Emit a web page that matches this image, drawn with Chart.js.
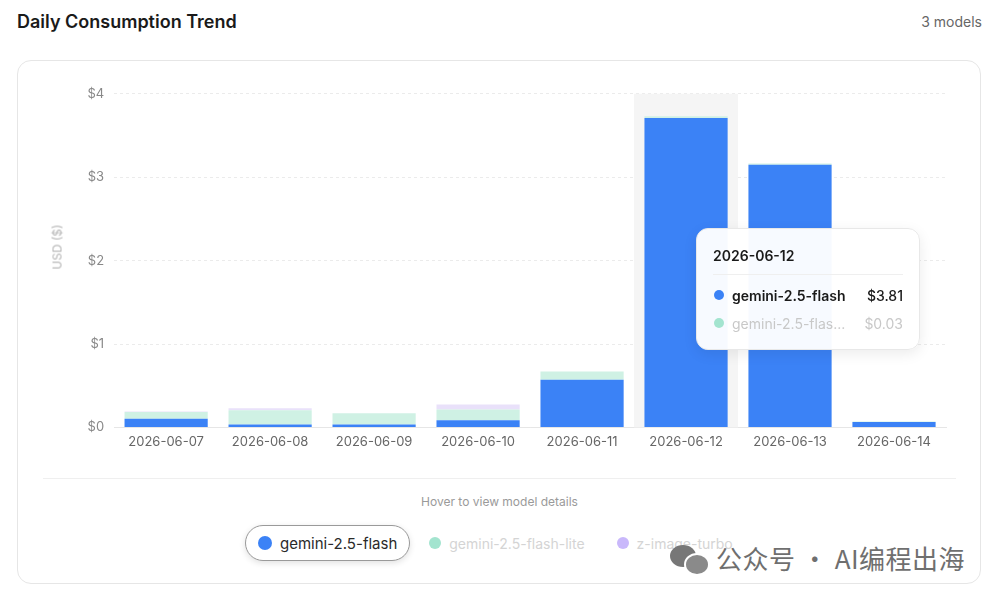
<!DOCTYPE html>
<html lang="en">
<head>
    <meta charset="UTF-8">
    <title>Daily Consumption Trend</title>
    <script src="https://cdn.jsdelivr.net/npm/chart.js"></script>
    <style>
        body {
            margin: 0;
            width: 999px;
            height: 599px;
            background: #fff;
            font-family: Inter, "Noto Sans", Arial, sans-serif;
            position: relative;
            overflow: hidden;
        }
        h2 {
            position: absolute;
            left: 17px;
            top: 11px;
            margin: 0;
            font-size: 18px;
            font-weight: 600;
            color: #1a1a1a;
        }
        .count {
            position: absolute;
            right: 17px;
            top: 13px;
            font-size: 14px;
            color: #666;
        }
        .card {
            position: absolute;
            left: 17px;
            top: 60px;
            width: 962px;
            height: 522px;
            border: 1px solid #e6e6e6;
            border-radius: 14px;
        }
        .chart-box {
            position: absolute;
            left: 47px;
            top: 80px;
            width: 913px;
            height: 377px;
        }
        .y-title {
            position: absolute;
            left: 57px;
            top: 247px;
            transform: translate(-50%, -50%) rotate(-90deg);
            font-size: 12px;
            font-weight: 400;
            color: #b4b4b4;
            white-space: nowrap;
        }
        .divider {
            position: absolute;
            left: 43px;
            top: 478px;
            width: 913px;
            height: 1px;
            background: #efefef;
        }
        .hint {
            position: absolute;
            left: 0;
            width: 999px;
            top: 494px;
            text-align: center;
            font-size: 12px;
            color: #9a9a9a;
        }
        #legend {
            position: absolute;
            left: 245px;
            top: 525px;
            display: flex;
            gap: 6px;
        }
        .pill {
            display: flex;
            align-items: center;
            height: 34px;
            padding: 0 12px 0 12px;
            border-radius: 18px;
            border: 1px solid transparent;
            font-size: 14px;
            color: #d4d4d4;
        }
        .pill.active {
            border-color: #9a9a9a;
            color: #2a2a2a;
            background: #fff;
            box-shadow: 0 2px 6px rgba(0,0,0,0.12);
            font-size: 15px;
        }
        .pill .dot {
            width: 14px;
            height: 14px;
            border-radius: 50%;
            margin-right: 8px;
        }
        .pill:not(.active) .dot {
            width: 12px;
            height: 12px;
        }
        #tip {
            position: absolute;
            left: 696px;
            top: 228px;
            width: 224px;
            height: 122px;
            box-sizing: border-box;
            padding: 18px 16px 0 16px;
            background: rgba(255,255,255,0.96);
            border: 1px solid #e8e8e8;
            border-radius: 12px;
            box-shadow: 0 4px 14px rgba(0,0,0,0.08);
        }
        #tip .date {
            font-size: 14px;
            font-weight: 600;
            color: #1a1a1a;
            padding-bottom: 10px;
            border-bottom: 1px solid #efefef;
            margin-bottom: 6px;
        }
        #tip .row {
            display: flex;
            align-items: center;
            height: 28px;
            font-size: 14px;
        }
        #tip .row .dot {
            width: 10px;
            height: 10px;
            border-radius: 50%;
            margin: 0 8px 0 1px;
        }
        #tip .row .name { flex: 1; }
        .watermark {
            position: absolute;
            left: 670px;
            top: 539px;
            font-family: "Noto Sans CJK SC", sans-serif;
            font-size: 26px;
            color: #6f6f6f;
            display: flex;
            align-items: center;
            letter-spacing: 0.5px;
        }
        .wx {
            position: relative;
            width: 40px;
            height: 32px;
            margin-right: 6px;
        }
        .wx span {
            position: absolute;
            border-radius: 50%;
            background: #777;
        }
    </style>
</head>
<body>
    <h2>Daily Consumption Trend</h2>
    <div class="count">3 models</div>
    <div class="card"></div>
    <div class="chart-box"><canvas id="usageChart"></canvas></div>
    <div class="y-title">USD ($)</div>
    <div class="divider"></div>
    <div class="hint">Hover to view model details</div>
    <div id="legend"></div>
    <div id="tip"></div>
    <div class="watermark">
        <div class="wx"><span style="left:0;top:3px;width:26px;height:22px"></span><span style="left:14px;top:11px;width:22px;height:19px;background:#8a8a8a;border:2px solid #fff"></span></div>
        公众号 · AI编程出海
    </div>

    <script>
        const dates = ['2026-06-07', '2026-06-08', '2026-06-09', '2026-06-10', '2026-06-11', '2026-06-12', '2026-06-13', '2026-06-14'];
        const models = ['gemini-2.5-flash', 'gemini-2.5-flash-lite', 'z-image-turbo'];
        const flash = [0.105, 0.035, 0.035, 0.085, 0.57, 3.71, 3.15, 0.065];
        const flashLite = [0.08, 0.17, 0.135, 0.13, 0.10, 0.02, 0.015, 0.005];
        const imageTurbo = [0.005, 0.025, 0.0, 0.06, 0.0, 0.0, 0.0, 0.0];
        const yTicks = [0, 1, 2, 3, 4];

        // hovered day shown in the tooltip card
        const hoverIndex = 5;
        const tipNames = ['gemini-2.5-flash', 'gemini-2.5-flas...'];
        const tipValues = ['$3.81', '$0.03'];

        const dotColors = ['#3b82f6', '#a3e4cf', '#c9b8fb'];
        const barColors = ['#3b82f6', '#cff1e4', '#e9e1fa'];
        const activeModel = 0;

        const hoverBand = {
            id: 'hoverBand',
            beforeDatasetsDraw(chart) {
                const x = chart.scales.x;
                const area = chart.chartArea;
                const w = (x.right - x.left) / dates.length;
                const cx = x.getPixelForValue(hoverIndex);
                const ctx = chart.ctx;
                ctx.save();
                ctx.fillStyle = '#f5f5f5';
                ctx.fillRect(cx - w / 2, area.top, w, area.bottom - area.top);
                ctx.restore();
            }
        };

        const ctx = document.getElementById('usageChart').getContext('2d');
        new Chart(ctx, {
            type: 'bar',
            data: {
                labels: dates,
                datasets: [flash, flashLite, imageTurbo].map((d, i) => ({
                    label: models[i],
                    data: d,
                    backgroundColor: barColors[i],
                    borderWidth: 0,
                    barPercentage: 0.8,
                    categoryPercentage: 1.0
                }))
            },
            options: {
                responsive: true,
                maintainAspectRatio: false,
                animation: false,
                layout: { padding: { top: 10, right: 14, left: 0, bottom: 0 } },
                plugins: {
                    legend: { display: false },
                    tooltip: { enabled: false }
                },
                scales: {
                    x: {
                        stacked: true,
                        grid: { display: false, drawTicks: false },
                        border: { display: true, color: '#e6e6e6' },
                        ticks: { color: '#666', font: { family: 'Inter', size: 13 }, padding: 7 }
                    },
                    y: {
                        stacked: true,
                        min: 0,
                        max: 4,
                        afterBuildTicks(scale) {
                            scale.ticks = yTicks.map(v => ({ value: v }));
                        },
                        grid: { color: '#ebebeb', tickLength: 4, tickColor: 'rgba(0,0,0,0)' },
                        border: { display: false, dash: [3, 3] },
                        ticks: {
                            color: '#888',
                            font: { family: 'Inter', size: 13 },
                            padding: 6,
                            callback: v => '$' + v
                        },
                        title: {
                            // drawn as HTML label, kept here only to reserve the space
                            display: true,
                            text: 'USD ($)',
                            color: 'rgba(0,0,0,0)',
                            font: { family: 'Inter', size: 12 },
                            padding: { bottom: 16 }
                        }
                    }
                }
            },
            plugins: [hoverBand]
        });

        // legend pills
        const legend = document.getElementById('legend');
        models.forEach((m, i) => {
            const pill = document.createElement('div');
            pill.className = 'pill' + (i === activeModel ? ' active' : '');
            pill.innerHTML = `<span class="dot" style="background:${dotColors[i]}"></span>${m}`;
            legend.appendChild(pill);
        });

        // tooltip card
        const tip = document.getElementById('tip');
        let html = `<div class="date">${dates[hoverIndex]}</div>`;
        tipNames.forEach((n, i) => {
            const style = i === activeModel ? 'color:#1a1a1a;font-weight:600' : 'color:#c8c8c8';
            html += `<div class="row" style="${style}"><span class="dot" style="background:${dotColors[i]}"></span><span class="name">${n}</span><span style="font-weight:${i === activeModel ? 500 : 400}">${tipValues[i]}</span></div>`;
        });
        tip.innerHTML = html;
    </script>
</body>
</html>
